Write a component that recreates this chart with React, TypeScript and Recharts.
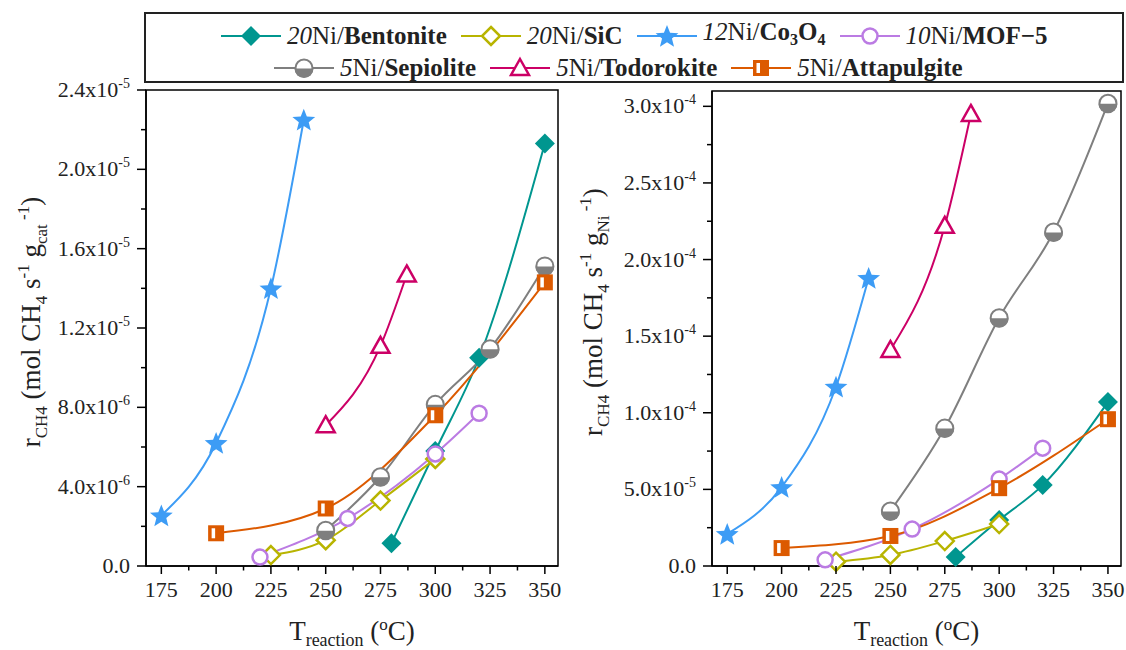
import React from 'react';
import { LineChart, Line, XAxis, YAxis, ReferenceArea } from 'recharts';

// temperatures (°C) and rates
const bentoniteT = [280, 300, 320, 350];
const bentoniteCat = [1.15e-6, 5.8e-6, 1.05e-5, 2.13e-5];
const bentoniteNi = [0.59e-5, 3.0e-5, 5.28e-5, 1.07e-4];

const sicT = [225, 250, 275, 300];
const sicCat = [0.55e-6, 1.3e-6, 3.3e-6, 5.4e-6];
const sicNi = [0.28e-5, 0.72e-5, 1.63e-5, 2.74e-5];

const co3o4T = [175, 200, 225, 240];
const co3o4Cat = [2.55e-6, 6.2e-6, 1.4e-5, 2.25e-5];
const co3o4Ni = [2.09e-5, 5.15e-5, 1.17e-4, 1.88e-4];

const mofT = [220, 260, 300, 320];
const mofCat = [0.45e-6, 2.4e-6, 5.65e-6, 7.7e-6];
const mofNi = [0.4e-5, 2.41e-5, 5.67e-5, 7.69e-5];

const sepioliteT = [250, 275, 300, 325, 350];
const sepioliteCat = [1.8e-6, 4.5e-6, 8.15e-6, 1.095e-5, 1.513e-5];
const sepioliteNi = [3.59e-5, 9.0e-5, 1.62e-4, 2.18e-4, 3.02e-4];

const todorokiteT = [250, 275, 287];
const todorokiteCat = [7.1e-6, 1.11e-5, 1.47e-5];
const todorokiteNi = [1.41e-4, 2.22e-4, 2.95e-4];

const attapulgiteT = [200, 250, 300, 350];
const attapulgiteCat = [1.65e-6, 2.9e-6, 7.6e-6, 1.43e-5];
const attapulgiteNi = [1.17e-5, 1.96e-5, 5.08e-5, 9.58e-5];

// axis ticks
const xMajor = [175, 200, 225, 250, 275, 300, 325, 350];
const xMinor = [187.5, 212.5, 237.5, 262.5, 287.5, 312.5, 337.5];

const leftYMajor = [0, 4e-6, 8e-6, 1.2e-5, 1.6e-5, 2.0e-5, 2.4e-5];
const leftYBase = ['0.0', '4.0x10', '8.0x10', '1.2x10', '1.6x10', '2.0x10', '2.4x10'];
const leftYExp = ['', '-6', '-6', '-5', '-5', '-5', '-5'];
const leftYMinor = [2e-6, 6e-6, 1.0e-5, 1.4e-5, 1.8e-5, 2.2e-5];

const rightYMajor = [0, 5e-5, 1.0e-4, 1.5e-4, 2.0e-4, 2.5e-4, 3.0e-4];
const rightYBase = ['0.0', '5.0x10', '1.0x10', '1.5x10', '2.0x10', '2.5x10', '3.0x10'];
const rightYExp = ['', '-5', '-4', '-4', '-4', '-4', '-4'];
const rightYMinor = [2.5e-5, 7.5e-5, 1.25e-4, 1.75e-4, 2.25e-4, 2.75e-4];

const FONT = "'Liberation Serif', 'DejaVu Serif', serif";
const X_DOMAIN: [number, number] = [168, 356];

type Kind = 'diamond' | 'diamondOpen' | 'star' | 'circleOpen' | 'halfCircle' | 'triangle' | 'halfSquare';

interface Series {
  name: string;
  color: string;
  kind: Kind;
  t: number[];
  cat: number[];
  ni: number[];
}

const series: Series[] = [
  { name: 'bentonite', color: '#00968f', kind: 'diamond', t: bentoniteT, cat: bentoniteCat, ni: bentoniteNi },
  { name: 'sic', color: '#b8b400', kind: 'diamondOpen', t: sicT, cat: sicCat, ni: sicNi },
  { name: 'co3o4', color: '#3d9cf5', kind: 'star', t: co3o4T, cat: co3o4Cat, ni: co3o4Ni },
  { name: 'mof', color: '#bb7be3', kind: 'circleOpen', t: mofT, cat: mofCat, ni: mofNi },
  { name: 'sepiolite', color: '#7f7f7f', kind: 'halfCircle', t: sepioliteT, cat: sepioliteCat, ni: sepioliteNi },
  { name: 'todorokite', color: '#cc0066', kind: 'triangle', t: todorokiteT, cat: todorokiteCat, ni: todorokiteNi },
  { name: 'attapulgite', color: '#dc5a00', kind: 'halfSquare', t: attapulgiteT, cat: attapulgiteCat, ni: attapulgiteNi },
];

function starPoints(cx: number, cy: number, R: number, r: number) {
  const p: string[] = [];
  for (let i = 0; i < 10; i++) {
    const a = -Math.PI / 2 + (i * Math.PI) / 5;
    const rad = i % 2 === 0 ? R : r;
    p.push(`${cx + rad * Math.cos(a)},${cy + rad * Math.sin(a)}`);
  }
  return p.join(' ');
}

function Marker({ kind, cx, cy, color }: { kind: Kind; cx: number; cy: number; color: string }) {
  switch (kind) {
    case 'diamond':
      return <polygon points={`${cx},${cy - 10} ${cx + 10},${cy} ${cx},${cy + 10} ${cx - 10},${cy}`} fill={color} />;
    case 'diamondOpen':
      return (
        <polygon
          points={`${cx},${cy - 9} ${cx + 9},${cy} ${cx},${cy + 9} ${cx - 9},${cy}`}
          fill="#fff"
          stroke={color}
          strokeWidth={2.5}
        />
      );
    case 'star':
      return <polygon points={starPoints(cx, cy + 1, 12, 5.2)} fill={color} />;
    case 'circleOpen':
      return <circle cx={cx} cy={cy} r={7.5} fill="#fff" stroke={color} strokeWidth={2.5} />;
    case 'halfCircle':
      return (
        <g>
          <circle cx={cx} cy={cy} r={8.5} fill="#fff" stroke={color} strokeWidth={2} />
          <path d={`M${cx - 9.5},${cy + 0.5} A9.5 9.5 0 0 0 ${cx + 9.5},${cy + 0.5} Z`} fill={color} />
        </g>
      );
    case 'triangle':
      return (
        <polygon
          points={`${cx},${cy - 9} ${cx + 9},${cy + 7} ${cx - 9},${cy + 7}`}
          fill="#fff"
          stroke={color}
          strokeWidth={2.5}
          strokeLinejoin="miter"
        />
      );
    case 'halfSquare':
      return (
        <g>
          <rect x={cx - 7} y={cy - 7} width={14} height={14} fill={color} stroke={color} strokeWidth={2} />
          <rect x={cx - 4.5} y={cy - 5} width={3.5} height={10} fill="#fff" />
        </g>
      );
  }
  return null;
}

const near = (a: number, b: number) => Math.abs(a - b) < Math.abs(b) * 1e-6 + 1e-15;
const textStyle = { fontFamily: FONT };

const XTick = (props: any) => {
  const { x, y, payload } = props;
  const v = payload.value;
  const major = xMajor.some((m) => near(v, m));
  return (
    <g>
      <line x1={x} x2={x} y1={y} y2={y + (major ? 8 : 4.5)} stroke="#000" strokeWidth={1.5} />
      {major && (
        <text x={x} y={y + 31} textAnchor="middle" fontSize={22} style={textStyle} fill="#222">
          {v}
        </text>
      )}
    </g>
  );
};

const makeYTick = (majors: number[], bases: string[], exps: string[]) => (props: any) => {
  const { x, y, payload } = props;
  const idx = majors.findIndex((m) => near(payload.value, m));
  const major = idx >= 0;
  return (
    <g>
      <line x1={x} x2={x - (major ? 9 : 5)} y1={y} y2={y} stroke="#000" strokeWidth={1.5} />
      {major && (
        <text x={x - 16} y={y + 7} textAnchor="end" fontSize={22} style={textStyle} fill="#222">
          {bases[idx]}
          {exps[idx] && (
            <tspan dy={-9} fontSize={14}>
              {exps[idx]}
            </tspan>
          )}
        </text>
      )}
    </g>
  );
};

const XLabel = (props: any) => {
  const vb = props.viewBox;
  return (
    <text x={vb.x + vb.width / 2} y={640} textAnchor="middle" fontSize={27} style={textStyle} fill="#222">
      T
      <tspan dy={6} fontSize={18}>
        reaction
      </tspan>
      <tspan dy={-6}> (</tspan>
      <tspan dy={-10} fontSize={17}>
        o
      </tspan>
      <tspan dy={10}>C)</tspan>
    </text>
  );
};

const makeYLabel = (cx: number, cy: number, sub: string) => () => (
  <text
    x={cx}
    y={cy}
    transform={`rotate(-90, ${cx}, ${cy})`}
    textAnchor="middle"
    fontSize={27}
    style={textStyle}
    fill="#222"
  >
    r
    <tspan dy={7} fontSize={17}>
      CH4
    </tspan>
    <tspan dy={-7}> (mol CH</tspan>
    <tspan dy={7} fontSize={17}>
      4
    </tspan>
    <tspan dy={-7}> s</tspan>
    <tspan dy={-11} fontSize={17}>
      -1
    </tspan>
    <tspan dy={11}> g</tspan>
    <tspan dy={7} fontSize={17}>
      {sub}
    </tspan>
    <tspan dy={-18} fontSize={17}>
      {' -1'}
    </tspan>
    <tspan dy={11}>)</tspan>
  </text>
);

function Panel({ which }: { which: 'cat' | 'ni' }) {
  const isCat = which === 'cat';
  const yMax = isCat ? 2.4e-5 : 3.1e-4;
  const majors = isCat ? leftYMajor : rightYMajor;
  const minors = isCat ? leftYMinor : rightYMinor;
  const YTick = isCat ? makeYTick(leftYMajor, leftYBase, leftYExp) : makeYTick(rightYMajor, rightYBase, rightYExp);
  const width = isCat ? 570 : 556;
  const yAxisWidth = isCat ? 146 : 142;
  return (
    <LineChart
      width={width}
      height={650}
      margin={{ top: isCat ? 90 : 91, right: isCat ? 12 : 5, left: 0, bottom: 0 }}
    >
      <XAxis
        dataKey="x"
        type="number"
        domain={X_DOMAIN}
        ticks={[...xMajor, ...xMinor].sort((a, b) => a - b)}
        interval={0}
        height={84}
        tickSize={0}
        tickMargin={0}
        tickLine={false}
        tick={<XTick />}
        axisLine={{ stroke: '#000', strokeWidth: 1.5 }}
        label={{ content: <XLabel /> } as any}
      />
      <YAxis
        dataKey="y"
        type="number"
        domain={[0, yMax]}
        ticks={[...majors, ...minors].sort((a, b) => a - b)}
        interval={0}
        width={yAxisWidth}
        tickSize={0}
        tickMargin={0}
        tickLine={false}
        tick={<YTick />}
        axisLine={{ stroke: '#000', strokeWidth: 1.5 }}
        label={{ content: makeYLabel(isCat ? 40 : 32, isCat ? 322 : 312, isCat ? 'cat' : 'Ni') } as any}
      />
      <ReferenceArea x1={X_DOMAIN[0]} x2={X_DOMAIN[1]} y1={0} y2={yMax} fill="none" stroke="#000" strokeWidth={1.5} />
      {series.map((s) => {
        const vals = isCat ? s.cat : s.ni;
        const data = s.t.map((t, i) => ({ x: t, y: vals[i] }));
        return (
          <Line
            key={s.name}
            data={data}
            dataKey="y"
            type="monotone"
            stroke={s.color}
            strokeWidth={2}
            isAnimationActive={false}
            activeDot={false}
            dot={(p: any) => <Marker key={`${s.name}-${p.index}`} kind={s.kind} cx={p.cx} cy={p.cy} color={s.color} />}
          />
        );
      })}
    </LineChart>
  );
}

const legendRow1 = [
  { s: 0, num: '20', bold: 'Bentonite' },
  { s: 1, num: '20', bold: 'SiC' },
  { s: 2, num: '12', bold: 'Co3O4' },
  { s: 3, num: '10', bold: 'MOF−5' },
];
const legendRow2 = [
  { s: 4, num: '5', bold: 'Sepiolite' },
  { s: 5, num: '5', bold: 'Todorokite' },
  { s: 6, num: '5', bold: 'Attapulgite' },
];

function LegendItem({ s, num, bold }: { s: number; num: string; bold: string }) {
  const ser = series[s];
  const label =
    bold === 'Co3O4' ? (
      <b>
        Co<sub style={{ fontSize: 16, verticalAlign: -5 }}>3</sub>O<sub style={{ fontSize: 16, verticalAlign: -5 }}>4</sub>
      </b>
    ) : (
      <b>{bold}</b>
    );
  return (
    <div style={{ display: 'flex', alignItems: 'center' }}>
      <svg width={60} height={26}>
        <line x1={0} x2={60} y1={13} y2={13} stroke={ser.color} strokeWidth={2} />
        <Marker kind={ser.kind} cx={30} cy={13} color={ser.color} />
      </svg>
      <span style={{ marginLeft: 6, fontSize: 25, color: '#222', whiteSpace: 'nowrap', lineHeight: '26px' }}>
        <i>{num}</i>Ni/{label}
      </span>
    </div>
  );
}

export default function App() {
  return (
    <div style={{ position: 'absolute', left: 0, top: 0, width: 1126, height: 650, background: '#fff', fontFamily: FONT }}>
      <div style={{ position: 'absolute', left: 0, top: 0 }}>
        <Panel which="cat" />
      </div>
      <div style={{ position: 'absolute', left: 570, top: 0 }}>
        <Panel which="ni" />
      </div>
      <div
        style={{
          position: 'absolute',
          left: 144,
          top: 12,
          width: 976,
          height: 67,
          border: '2px solid #222',
          background: '#fff',
        }}
      >
        <div style={{ position: 'absolute', left: 221 - 146, top: 5, display: 'flex', gap: 14 }}>
          {legendRow1.map((it) => (
            <LegendItem key={it.s} {...it} />
          ))}
        </div>
        <div style={{ position: 'absolute', left: 274 - 146, top: 41, display: 'flex', gap: 14 }}>
          {legendRow2.map((it) => (
            <LegendItem key={it.s} {...it} />
          ))}
        </div>
      </div>
    </div>
  );
}
